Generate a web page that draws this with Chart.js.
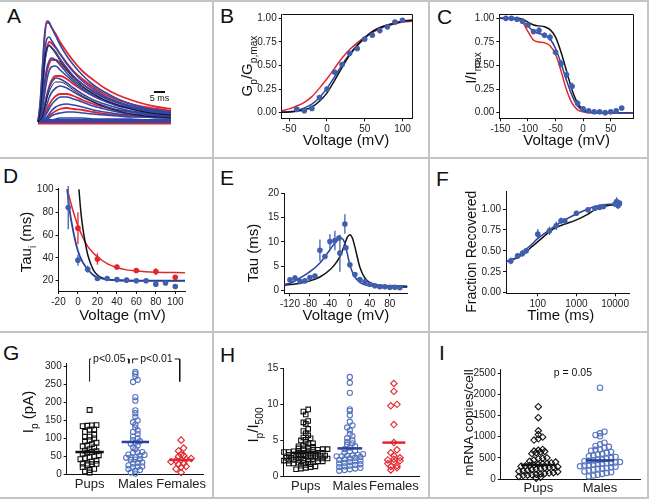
<!DOCTYPE html>
<html>
<head>
<meta charset="utf-8">
<title>Channel kinetics and expression</title>
<script src="https://cdn.jsdelivr.net/npm/chart.js@4.4.1/dist/chart.umd.min.js"></script>
<style>
  html, body { margin: 0; padding: 0; background: #fff; }
  #fig { position: relative; width: 651px; height: 501px; overflow: hidden; font-family: "Liberation Sans", Arial, sans-serif; }
  #fig canvas { position: absolute; left: 0; top: 0; }
  .rule { position: absolute; background: #c4c4c4; }
  .tag { position: absolute; font-size: 21px; line-height: 21px; color: #111; }
</style>
</head>
<body>
<div id="fig">
  <div class="rule" style="left:0;top:0;width:649px;height:2px"></div>
  <div class="rule" style="left:647px;top:0;width:2px;height:499px"></div>
  <div class="rule" style="left:0;top:497px;width:649px;height:2px"></div>
  <div class="rule" style="left:212px;top:0;width:2px;height:498px"></div>
  <div class="rule" style="left:428px;top:0;width:2px;height:498px"></div>
  <div class="rule" style="left:0;top:157px;width:648px;height:2px"></div>
  <div class="rule" style="left:0;top:331px;width:648px;height:2px"></div>
  <div class="tag" style="left:7px;top:5px">A</div>
  <div class="tag" style="left:220px;top:5px">B</div>
  <div class="tag" style="left:437px;top:6px">C</div>
  <div class="tag" style="left:3px;top:165px">D</div>
  <div class="tag" style="left:220px;top:167px">E</div>
  <div class="tag" style="left:436px;top:168px">F</div>
  <div class="tag" style="left:3px;top:342px">G</div>
  <div class="tag" style="left:220px;top:344px">H</div>
  <div class="tag" style="left:439px;top:342px">I</div>
</div>
<script>
// ---- A: current traces (amplitude above baseline, ms)
const A_TIME = [0, 1, 2, 3, 4, 5, 6, 8, 10, 13, 16, 20, 25, 30, 36, 42, 48, 54, 60];
const A_BLUE = [
  [0, 20, 55, 88, 101, 100, 95, 86, 77, 66, 57, 47, 37, 30, 23, 18, 14, 12, 10],
  [0, 12, 40, 70, 83, 85, 82, 75, 68, 58, 50, 41, 33, 26, 20, 16, 13, 11, 9],
  [0, 8, 30, 58, 72, 77, 75, 70, 63, 54, 46, 38, 30, 24, 19, 15, 12, 10, 8],
  [0, 5, 20, 40, 54, 61, 64, 62, 57, 49, 42, 35, 28, 22, 17, 14, 11, 9, 8],
  [0, 3, 13, 28, 42, 51, 55, 56, 52, 46, 40, 33, 26, 21, 16, 13, 10, 8, 7],
  [0, 2, 7, 16, 26, 34, 39, 44, 43, 39, 34, 28, 22, 18, 14, 11, 9, 8, 7],
  [0, 1, 4, 10, 17, 24, 29, 34, 36, 34, 30, 25, 20, 16, 12, 10, 8, 7, 6],
  [0, 1, 2, 5, 9, 13, 17, 22, 25, 25, 23, 20, 16, 13, 10, 8, 7, 6, 5],
  [0, 0, 1, 3, 5, 8, 11, 15, 17, 18, 17, 15, 12, 10, 8, 7, 6, 5, 5],
  [0, 0, 1, 2, 3, 4, 6, 8, 9, 10, 10, 9, 8, 7, 6, 5, 5, 4, 4],
  [0, 0, 0, 1, 1, 2, 2, 3, 4, 4, 4, 4, 3, 3, 3, 3, 2, 2, 2],
  [1, 1, 1, 1, 1, 1, 1, 1, 1, 1, 1, 1, 1, 1, 1, 1, 1, 1, 1]
];
const A_RED = [
  [0, 18, 52, 85, 99, 99, 95, 88, 80, 70, 61, 51, 42, 34, 27, 22, 18, 15, 13],
  [0, 10, 33, 60, 74, 80, 79, 74, 68, 59, 51, 43, 35, 28, 22, 18, 15, 13, 11],
  [0, 5, 18, 36, 50, 58, 62, 62, 59, 52, 45, 38, 31, 25, 20, 16, 13, 11, 10],
  [0, 2, 8, 17, 27, 35, 41, 46, 46, 43, 38, 32, 26, 21, 17, 14, 11, 10, 9],
  [0, 1, 3, 7, 12, 17, 21, 26, 28, 28, 26, 22, 18, 15, 12, 10, 8, 7, 7],
  [0, 0, 1, 2, 4, 6, 8, 11, 13, 14, 13, 12, 10, 8, 7, 6, 5, 5, 4],
  [-1, -1, -1, -1, -1, -1, -1, -1, -1, -1, -1, -1, -1, -1, -1, -1, -1, -1, -1]
];
const A_FITS = [
  [0, 10, 35, 62, 74, 76, 74, 68, 61, 52, 44, 36, 28, 22, 17, 13, 10, 8, 7],
  [0, 2, 6, 14, 23, 30, 35, 40, 40, 37, 32, 26, 20, 15, 11, 8, 6, 5, 4]
];
const A_BAR = [52.3, 57.3, 30];   // scale bar: start, end (ms), level

// ---- B: activation
const B_V = [-40, -30, -20, -10, 0, 10, 20, 30, 40, 50, 60, 70, 80, 90, 100];
const B_G = [0.035, 0.02, 0.045, 0.16, 0.25, 0.43, 0.51, 0.63, 0.68, 0.78, 0.82, 0.87, 0.91, 0.96, 0.98];
const B_FIT_V = [-60, -50, -40, -30, -20, -10, 0, 10, 20, 30, 40, 50, 60, 70, 80, 90, 100, 113];
const B_FIT_BLUE = [0.005, 0.01, 0.02, 0.05, 0.09, 0.16, 0.26, 0.38, 0.51, 0.62, 0.72, 0.8, 0.86, 0.9, 0.93, 0.95, 0.97, 0.98];
const B_FIT_BLACK = [0.003, 0.006, 0.015, 0.03, 0.06, 0.12, 0.21, 0.34, 0.48, 0.61, 0.71, 0.79, 0.86, 0.9, 0.93, 0.95, 0.97, 0.98];
const B_FIT_RED = [0.02, 0.04, 0.07, 0.11, 0.17, 0.26, 0.36, 0.47, 0.58, 0.67, 0.74, 0.8, 0.85, 0.89, 0.92, 0.94, 0.96, 0.97];
const B_X_TICKS = [-50, 0, 50, 100];
const FRAC_TICKS = [0, 0.25, 0.5, 0.75, 1];

// ---- C: steady-state inactivation
const C_V = [-140, -130, -120, -110, -100, -90, -80, -70, -60, -50, -40, -30, -20, -10, 0, 10, 20, 30, 40, 50, 60, 70];
const C_I = [1.0, 1.0, 0.99, 0.97, 0.93, 0.86, 0.87, 0.82, 0.8, 0.64, 0.52, 0.4, 0.28, 0.1, 0.04, 0.02, 0.01, 0.01, 0.0, 0.01, 0.02, 0.05];
const C_ERR = [0.01, 0.01, 0.01, 0.01, 0.02, 0.03, 0.04, 0.03, 0.04, 0.03, 0.04, 0.04, 0.04, 0.03, 0.02, 0.01, 0.01, 0.01, 0.01, 0.01, 0.01, 0.02];
const C_FIT_V = [-152, -120, -110, -100, -90, -80, -70, -60, -50, -40, -30, -20, -10, 0, 10, 20, 91];
const C_FIT_BLACK = [1, 1, 0.99, 0.96, 0.93, 0.92, 0.91, 0.88, 0.8, 0.64, 0.44, 0.24, 0.1, 0.03, 0.01, 0, 0];
const C_FIT_RED = [1, 0.99, 0.96, 0.86, 0.77, 0.75, 0.74, 0.71, 0.62, 0.44, 0.24, 0.1, 0.03, 0.01, 0, 0, 0];
const C_FIT_BLUE = [1, 0.99, 0.97, 0.92, 0.86, 0.84, 0.82, 0.78, 0.68, 0.52, 0.34, 0.18, 0.07, 0.02, 0.005, 0, 0];
const C_X_TICKS = [-150, -100, -50, 0, 50];

// ---- D: inactivation time constant
const D_V_BLUE = [-10, 0, 10, 20, 30, 40, 50, 60, 70, 80, 90, 100];
const D_TAU_BLUE = [84, 38, 30, 22, 22, 21, 20.5, 20, 20, 17, 18, 15];
const D_ERR_BLUE = [19, 5, 3, 1, 1, 1, 1, 1, 1, 1.5, 1, 0.5];
const D_V_RED = [0, 20, 40, 60, 80, 100];
const D_TAU_RED = [66, 39, 32, 29, 28, 23];
const D_ERR_RED = [14, 5, 2, 1.5, 3, 1.5];
const D_FIT_V_BLUE = [-11, -9, -5, 0, 5, 10, 15, 20, 30, 40, 60, 110];
const D_FIT_BLUE = [100, 84, 64, 46, 36, 30, 25.5, 23, 21, 20.4, 20, 20];
const D_FIT_V_RED = [-11, -5, 0, 5, 10, 15, 20, 30, 40, 50, 60, 80, 110];
const D_FIT_RED = [100, 81, 68, 58, 50, 45, 41, 35, 31.5, 29.5, 28.5, 27.5, 27];
const D_FIT_V_BLACK = [1, 3, 5, 8, 10, 13, 16, 20, 25, 30, 40, 60, 110];
const D_FIT_BLACK = [100, 80, 66, 51, 43, 35, 29, 25, 22.5, 21.3, 20.4, 20, 20];
const D_X_TICKS = [-20, 0, 20, 40, 60, 80, 100];
const D_Y_TICKS = [20, 40, 60, 80, 100];

// ---- E: activation / deactivation time constant
const E_V = [-120, -110, -100, -90, -80, -70, -60, -50, -40, -30, -22, -20, -10, -8, 0, 10, 20, 30, 40, 50, 60, 70, 80, 90, 100];
const E_TAU = [2.2, 2.6, 1.9, 2.0, 2.7, 3.0, 8.3, 7.0, 10.1, 10.3, 10.8, 7.7, 13.7, 8.8, 5.3, 3.3, 2.3, 1.8, 1.3, 1.0, 0.8, 0.8, 0.7, 0.7, 0.6];
const E_ERR = [0.3, 0.6, 0.2, 0.2, 0.5, 0.4, 2.2, 0.5, 1.5, 2.0, 0, 3.8, 2.0, 0.5, 0.4, 0.3, 0.2, 0.2, 0.1, 0.1, 0.1, 0.1, 0.1, 0.1, 0.1];
const E_FIT_V = [-132, -120, -100, -80, -60, -40, -30, -20, -15, -10, -5, 0, 5, 10, 20, 30, 40, 60, 80, 115];
const E_FIT_BLUE = [1.3, 1.5, 2.6, 3.9, 5.7, 8.4, 9.8, 10.8, 10.7, 9.7, 7.5, 5.3, 3.8, 2.8, 1.7, 1.2, 1.0, 0.8, 0.75, 0.7];
const E_FIT_BLACK = [1.1, 1.25, 1.5, 2.0, 2.8, 4.3, 5.4, 7.0, 8.2, 9.7, 11.0, 11.5, 10.8, 9.0, 4.8, 2.6, 1.6, 1.1, 1.0, 0.9];
const E_X_TICKS = [-120, -80, -40, 0, 40, 80];
const E_Y_TICKS = [0, 5, 10, 15, 20];

// ---- F: recovery from inactivation
const F_T = [20, 30, 40, 50, 100, 200, 300, 400, 500, 1000, 2000, 3000, 4000, 5000, 10000, 11000, 12000, 13000];
const F_FRAC = [0.38, 0.44, 0.47, 0.5, 0.7, 0.74, 0.8, 0.86, 0.86, 0.95, 0.99, 1.01, 1.02, 1.03, 1.06, 1.09, 1.04, 1.07];
const F_ERR = [0.04, 0.03, 0.04, 0.03, 0.06, 0.05, 0.05, 0.04, 0.03, 0.03, 0.02, 0.02, 0.02, 0.02, 0.03, 0.05, 0.04, 0.03];
const F_FIT_T = [15, 20, 30, 50, 70, 100, 150, 200, 300, 500, 1000, 2000, 3000, 5000, 10000, 15000];
const F_FIT_BLUE = [0.37, 0.39, 0.43, 0.52, 0.58, 0.65, 0.71, 0.75, 0.81, 0.87, 0.94, 1.0, 1.03, 1.05, 1.06, 1.06];
const F_FIT_BLACK = [0.37, 0.39, 0.42, 0.49, 0.55, 0.61, 0.68, 0.73, 0.78, 0.82, 0.87, 0.94, 0.99, 1.03, 1.05, 1.05];
const F_X_TICKS = [100, 1000, 10000];

// ---- G: peak current by group
const GROUPS = ['Pups', 'Males', 'Females'];
const G_PUPS = [179, 137, 136, 135, 134, 125, 124, 118, 110, 105, 104, 100, 95, 92, 88, 84, 80, 78, 75, 70, 66, 64, 62, 60, 57, 53, 50, 48, 45, 42, 38, 35, 30, 30, 29, 28, 25, 20, 15, 12, 8, 5];
const G_MALES = [285, 280, 272, 263, 257, 215, 205, 178, 170, 160, 150, 145, 138, 130, 122, 118, 112, 105, 100, 95, 92, 88, 85, 80, 75, 70, 62, 61, 60, 55, 54, 52, 48, 47, 46, 42, 41, 40, 33, 32, 30, 25, 22, 21, 20, 15, 12, 10, 5, 2];
const G_FEMALES = [95, 73, 65, 55, 52, 50, 44, 42, 40, 38, 35, 30, 28, 22, 20, 15, 5];
const G_MEDIANS = [62, 90, 40];
const G_Y_TICKS = [0, 50, 100, 150, 200, 250, 300];
const G_SIG_X = [[1, 1.86], [1.94, 2.97]];
const G_SIG_LEGS = [[258, 309], [309, 258]];
const G_SIG_TOP = 321;
const G_SIG_TEXT = ['p<0.05', 'p<0.01'];
const G_SIG_TEXT_X = [1.43, 2.46];

// ---- H: Ip / I500 ratio
const H_PUPS = [9.3, 9.0, 8.6, 7.7, 7.5, 7.3, 6.6, 6.3, 6.0, 5.7, 5.4, 5.3, 5.1, 5.0, 4.8, 4.6, 4.5, 4.3, 4.2, 4.1, 4.0, 3.9, 3.9, 3.8, 3.8, 3.7, 3.7, 3.6, 3.6, 3.5, 3.5, 3.4, 3.4, 3.3, 3.3, 3.2, 3.2, 3.1, 3.1, 3.0, 3.0, 2.9, 2.9, 2.8, 2.8, 2.8, 2.7, 2.7, 2.6, 2.6, 2.5, 2.5, 2.5, 2.4, 2.4, 2.3, 2.3, 2.3, 2.2, 2.2, 2.1, 2.1, 2.0, 2.0, 1.9, 1.9, 1.8, 1.8, 1.7, 1.6, 1.5, 1.4, 1.3, 1.2, 1.1, 1.0];
const H_MALES = [13.8, 13.0, 11.6, 9.3, 9.1, 8.5, 7.6, 7.1, 6.8, 6.4, 5.9, 5.6, 5.3, 5.0, 4.8, 4.6, 4.4, 4.2, 4.0, 3.8, 3.6, 3.5, 3.3, 3.1, 3.0, 2.9, 2.9, 2.8, 2.8, 2.7, 2.6, 2.5, 2.4, 2.3, 2.2, 2.1, 2.0, 1.9, 1.8, 1.7, 1.6, 1.5, 1.4, 1.3, 1.2, 1.1, 1.0, 0.9, 0.8];
const H_FEMALES = [12.9, 11.8, 10.0, 9.8, 7.2, 4.7, 3.7, 3.3, 2.9, 2.6, 2.4, 2.3, 2.2, 2.0, 1.8, 1.5, 1.4, 1.2, 0.9];
const H_MEDIANS = [3.3, 3.9, 4.7];
const H_Y_TICKS = [0, 5, 10, 15];

// ---- I: mRNA copies per cell
const I_PUPS = [1710, 1450, 1140, 1050, 990, 950, 920, 700, 680, 660, 650, 640, 620, 600, 500, 490, 480, 450, 420, 400, 380, 370, 360, 350, 330, 320, 310, 300, 290, 280, 270, 260, 240, 230, 220, 200, 190, 180, 170, 150, 140, 130, 120, 110, 100, 90, 80, 60, 40, 20];
const I_MALES = [2160, 1120, 1080, 1040, 1010, 860, 820, 780, 760, 740, 700, 690, 670, 640, 620, 600, 580, 560, 540, 520, 500, 480, 460, 450, 440, 430, 420, 400, 390, 380, 370, 360, 350, 340, 330, 320, 300, 290, 280, 260, 250, 240, 220, 200, 180, 160, 140, 120, 100, 80, 60];
const I_MEDIANS = [330, 440];
const I_Y_TICKS = [0, 500, 1000, 1500, 2000, 2500];

const W = 651, H = 501;
const FONT = '"Liberation Sans", Arial, Helvetica, sans-serif';
const BLUE = '#3f5fae', BLUE_FIT = '#2a419c', BLUE_OPEN = '#5674bf', RED = '#e2262d', BLACK = '#111';
Chart.defaults.font.family = FONT;
Chart.defaults.color = '#222';
const fig = document.getElementById('fig');

// text with subscripts, centred on (x, y); rotated for y titles
function rich(c, parts, x, y, size, rot) {
  c.save();
  c.translate(x, y);
  if (rot) c.rotate(-Math.PI / 2);
  c.fillStyle = BLACK;
  c.textAlign = 'left';
  c.textBaseline = 'alphabetic';
  const fonts = parts.map(p => (p[1] ? size * 0.68 : size) + 'px ' + FONT);
  let total = 0;
  parts.forEach((p, i) => { c.font = fonts[i]; total += c.measureText(p[0]).width; });
  let cx = -total / 2;
  parts.forEach((p, i) => {
    c.font = fonts[i];
    c.fillText(p[0], cx, size * 0.36 + (p[1] ? size * 0.3 : 0));
    cx += c.measureText(p[0]).width;
  });
  c.restore();
}

const notesPlugin = {
  id: 'notes',
  afterDatasetsDraw(chart) {
    const c = chart.ctx, ys = chart.scales.y;
    chart.data.datasets.forEach((ds, i) => {
      if (!ds.errs) return;
      const meta = chart.getDatasetMeta(i);
      c.save();
      c.strokeStyle = ds.borderColor;
      c.lineWidth = 1.3;
      meta.data.forEach((pt, j) => {
        const v = ds.data[j].y, e = ds.errs[j];
        if (!e) return;
        c.beginPath();
        c.moveTo(pt.x, ys.getPixelForValue(v - e));
        c.lineTo(pt.x, ys.getPixelForValue(v + e));
        c.stroke();
      });
      c.restore();
    });
  },
  afterDraw(chart, args, o) {
    const c = chart.ctx, a = chart.chartArea, xs = chart.scales.x, ys = chart.scales.y;
    c.save();
    if (o.frame) {
      const l = Math.round(a.left) + 0.5, t = Math.round(a.top) + 0.5, r = Math.round(a.right) + 0.5, b = Math.round(a.bottom) + 0.5;
      c.strokeStyle = BLACK; c.lineWidth = 1;
      c.beginPath(); c.moveTo(l, t); c.lineTo(r, t); c.lineTo(r, b); c.stroke();
    }
    if (o.bar) {
      const x0 = xs.getPixelForValue(o.bar[0]), x1 = xs.getPixelForValue(o.bar[1]), y = ys.getPixelForValue(o.bar[2]);
      c.strokeStyle = BLACK; c.lineWidth = 2;
      c.beginPath(); c.moveTo(x0, y); c.lineTo(x1, y); c.stroke();
      c.fillStyle = BLACK; c.font = '9px ' + FONT; c.textAlign = 'center'; c.textBaseline = 'top';
      c.fillText('5 ms', (x0 + x1) / 2, y + 2);
    }
    (o.labels || []).forEach(m => {
      const x = xs.getPixelForValue(m.xv), y = ys.getPixelForValue(m.yv);
      c.font = m.s + 'px ' + FONT;
      const w = c.measureText(m.t).width;
      if (m.bg) { c.fillStyle = '#fff'; c.fillRect(x - w / 2 - 2, y - m.s / 2, w + 4, m.s); }
      c.fillStyle = BLACK; c.textAlign = 'center'; c.textBaseline = 'middle';
      c.fillText(m.t, x, y);
    });
    (o.texts || []).forEach(t => rich(c, t.p, t.x, t.y, t.s, t.r));
    c.restore();
  }
};

function axis(o) {
  return {
    type: o.type || 'linear',
    display: o.display !== false,
    min: o.min, max: o.max,
    afterBuildTicks: s => { if (o.ticks) s.ticks = o.ticks.map(v => ({ value: v })); },
    afterFit: s => { if (o.w != null) s.width = o.w; if (o.h != null) s.height = o.h; },
    ticks: {
      font: { size: o.size || 10 }, color: '#222', padding: o.pad != null ? o.pad : 2,
      maxRotation: 0, autoSkip: false, callback: o.fmt || (v => String(v))
    },
    grid: { drawOnChartArea: false, drawTicks: !o.noTick, tickLength: 3, tickColor: BLACK, tickWidth: 1 },
    border: { display: true, color: BLACK, width: 1 }
  };
}

function mount(box, xo, yo, datasets, notes) {
  const cv = document.createElement('canvas');
  cv.width = W; cv.height = H;
  fig.appendChild(cv);
  return new Chart(cv, {
    type: 'scatter',
    data: { datasets: datasets.map(d => Object.assign({ clip: false }, d)) },
    options: {
      responsive: false, animation: false, events: [],
      layout: { padding: { left: box.l - (box.yw || 0), top: box.t, right: W - box.r, bottom: H - box.b - (box.xh || 0) } },
      plugins: { legend: { display: false }, tooltip: { enabled: false }, notes: notes || {} },
      scales: { x: axis(Object.assign({ h: box.xh }, xo)), y: axis(Object.assign({ w: box.yw }, yo)) }
    },
    plugins: [notesPlugin]
  });
}

const pairs = (xs, ys) => xs.map((x, i) => ({ x, y: ys[i] }));
const curve = (xs, ys, color, w, tension) => ({
  data: pairs(xs, ys), showLine: true, borderColor: color, borderWidth: w || 1.5,
  pointRadius: 0, tension: tension == null ? 0.4 : tension, cubicInterpolationMode: 'monotone'
});
const dots = (xs, ys, errs, color, r) => ({
  data: pairs(xs, ys), errs, borderColor: color, pointBackgroundColor: color,
  pointBorderColor: color, pointRadius: r || 2.8, pointBorderWidth: 0
});
const fmt2 = v => v.toFixed(2);
const cat = v => GROUPS[v - 1];

// column scatter: values in the same band are spread side by side
function swarm(vals, center, bin, slot) {
  const rows = new Map();
  [...vals].sort((a, b) => a - b).forEach(v => {
    const k = Math.round(v / bin);
    if (!rows.has(k)) rows.set(k, []);
    rows.get(k).push(v);
  });
  const pts = [];
  rows.forEach(r => r.forEach((v, i) => pts.push({ x: center + (i - (r.length - 1) / 2) * slot, y: v })));
  return pts;
}
const openPts = (pts, style, color, r) => ({
  data: pts, pointStyle: style, pointRadius: r, pointBorderColor: color,
  pointBackgroundColor: 'rgba(255,255,255,0)', pointBorderWidth: 1.1
});
const median = (c, m, half, color) => ({
  data: [{ x: c - half, y: m }, { x: c + half, y: m }], showLine: true,
  borderColor: color, borderWidth: 2.5, pointRadius: 0
});

// ---- A
mount({ l: 38, r: 171, t: 20, b: 122 }, { display: false, min: 0, max: 60 }, { display: false, min: 0, max: 102 },
  [
    ...A_FITS.map(tr => curve(A_TIME, tr, BLACK, 0.9, 0.3)),
    ...A_BLUE.map((tr, i) => curve(A_TIME, tr, '#3446a6', i === A_BLUE.length - 1 ? 4 : 1.6, 0.3)),
    ...A_RED.map((tr, i) => curve(A_TIME, tr, RED, i === A_RED.length - 1 ? 3 : 1.8, 0.3))
  ],
  { bar: A_BAR });

// ---- B
mount({ l: 281.7, r: 412.3, t: 14, b: 118.3, yw: 30, xh: 18 },
  { min: -60, max: 113, ticks: B_X_TICKS },
  { min: -0.06, max: 1.046, ticks: FRAC_TICKS, fmt: fmt2 },
  [
    dots(B_V, B_G, null, BLUE),
    curve(B_FIT_V, B_FIT_BLACK, BLACK),
    curve(B_FIT_V, B_FIT_BLUE, BLUE_FIT),
    curve(B_FIT_V, B_FIT_RED, RED)
  ],
  {
    frame: true,
    texts: [
      { p: [['Voltage (mV)']], x: 346, y: 140, s: 15 },
      { p: [['G'], ['p', 1], ['/G'], ['p,max', 1]], x: 247, y: 66, s: 15, r: true }
    ]
  });

// ---- C
mount({ l: 499.3, r: 633.3, t: 14, b: 118.3, yw: 30, xh: 18 },
  { min: -152, max: 91, ticks: C_X_TICKS },
  { min: -0.06, max: 1.046, ticks: FRAC_TICKS, fmt: fmt2 },
  [
    dots(C_V, C_I, C_ERR, BLUE),
    curve(C_FIT_V, C_FIT_BLUE, BLUE_FIT),
    curve(C_FIT_V, C_FIT_BLACK, BLACK),
    curve(C_FIT_V, C_FIT_RED, RED)
  ],
  {
    frame: true,
    texts: [
      { p: [['Voltage (mV)']], x: 566.7, y: 140, s: 15 },
      { p: [['I/I'], ['max', 1]], x: 471, y: 68, s: 15, r: true }
    ]
  });

// ---- D
mount({ l: 58.5, r: 185, t: 188.3, b: 291, yw: 28, xh: 18 },
  { min: -20, max: 110, ticks: D_X_TICKS },
  { min: 11, max: 100.9, ticks: D_Y_TICKS },
  [
    dots(D_V_BLUE, D_TAU_BLUE, D_ERR_BLUE, BLUE),
    dots(D_V_RED, D_TAU_RED, D_ERR_RED, RED),
    curve(D_FIT_V_BLUE, D_FIT_BLUE, BLUE_FIT, 1.8),
    curve(D_FIT_V_BLACK, D_FIT_BLACK, BLACK),
    curve(D_FIT_V_RED, D_FIT_RED, RED)
  ],
  {
    texts: [
      { p: [['Voltage (mV)']], x: 122.5, y: 315, s: 15 },
      { p: [['Tau'], ['i', 1], [' (ms)']], x: 26, y: 242, s: 15, r: true }
    ]
  });

// ---- E
mount({ l: 284, r: 407.3, t: 193.3, b: 293.3, yw: 28, xh: 18 },
  { min: -132, max: 115, ticks: E_X_TICKS },
  { min: -0.55, max: 20, ticks: E_Y_TICKS },
  [
    dots(E_V, E_TAU, E_ERR, BLUE),
    curve(E_FIT_V, E_FIT_BLUE, BLUE_FIT),
    curve(E_FIT_V, E_FIT_BLACK, BLACK)
  ],
  {
    texts: [
      { p: [['Voltage (mV)']], x: 345.8, y: 315, s: 15 },
      { p: [['Tau (ms)']], x: 253, y: 253, s: 15, r: true }
    ]
  });

// ---- F
mount({ l: 506, r: 629.3, t: 191.7, b: 293.3, yw: 36, xh: 18 },
  { type: 'logarithmic', min: 15, max: 23400, ticks: F_X_TICKS },
  { min: -0.007, max: 1.207, ticks: FRAC_TICKS, fmt: fmt2 },
  [
    dots(F_T, F_FRAC, F_ERR, BLUE),
    curve(F_FIT_T, F_FIT_BLUE, BLUE_FIT),
    curve(F_FIT_T, F_FIT_BLACK, BLACK)
  ],
  {
    texts: [
      { p: [['Time (ms)']], x: 560.8, y: 315, s: 15 },
      { p: [['Fraction Recovered']], x: 471, y: 251.7, s: 14, r: true }
    ]
  });

// ---- G
mount({ l: 66.7, r: 204, t: 363.3, b: 474.3, yw: 30, xh: 22 },
  { min: 0.5, max: 3.5, ticks: [1, 2, 3], fmt: cat, size: 13, noTick: true, pad: 2 },
  { min: 0, max: 309, ticks: G_Y_TICKS },
  [
    median(1, G_MEDIANS[0], 0.31, BLACK),
    median(2, G_MEDIANS[1], 0.3, BLUE_FIT),
    median(3, G_MEDIANS[2], 0.26, RED),
    openPts(swarm(G_PUPS, 1, 12, 0.1), 'rect', BLACK, 3.4),
    openPts(swarm(G_MALES, 2, 10, 0.1), 'circle', BLUE_OPEN, 2.6),
    openPts(swarm(G_FEMALES, 3, 10, 0.11), 'rectRot', RED, 3.3),
    ...G_SIG_X.map((xx, i) => ({
      data: [{ x: xx[0], y: G_SIG_LEGS[i][0] }, { x: xx[0], y: G_SIG_TOP }, { x: xx[1], y: G_SIG_TOP }, { x: xx[1], y: G_SIG_LEGS[i][1] }],
      showLine: true, borderColor: BLACK, borderWidth: 1, pointRadius: 0, tension: 0
    }))
  ],
  {
    labels: G_SIG_TEXT.map((t, i) => ({ t, xv: G_SIG_TEXT_X[i], yv: G_SIG_TOP, s: 10.5, bg: true })),
    texts: [{ p: [['I'], ['p', 1], [' (pA)']], x: 28, y: 412, s: 15, r: true }]
  });

// ---- H
mount({ l: 283.3, r: 419, t: 368.3, b: 476.5, yw: 30, xh: 22 },
  { min: 0.49, max: 3.57, ticks: [1, 2, 3], fmt: cat, size: 13, noTick: true, pad: 2 },
  { min: 0, max: 15, ticks: H_Y_TICKS },
  [
    median(1, H_MEDIANS[0], 0.3, BLACK),
    median(2, H_MEDIANS[1], 0.28, BLUE_FIT),
    median(3, H_MEDIANS[2], 0.26, RED),
    openPts(swarm(H_PUPS, 1, 0.4, 0.11), 'rect', BLACK, 3.2),
    openPts(swarm(H_MALES, 2, 0.5, 0.12), 'circle', BLUE_OPEN, 2.6),
    openPts(swarm(H_FEMALES, 3, 0.5, 0.14), 'rectRot', RED, 3.2)
  ],
  {
    texts: [{ p: [['I'], ['p', 1], ['/I'], ['500', 1]], x: 253, y: 425, s: 15, r: true }]
  });

// ---- I
mount({ l: 500.7, r: 640.7, t: 369.3, b: 479, yw: 30, xh: 22 },
  { min: 0.39, max: 2.66, ticks: [1, 2], fmt: cat, size: 13, noTick: true, pad: 2 },
  { min: 0, max: 2594, ticks: I_Y_TICKS },
  [
    median(1, I_MEDIANS[0], 0.28, BLACK),
    median(2, I_MEDIANS[1], 0.23, BLUE_FIT),
    openPts(swarm(I_PUPS, 1, 120, 0.07), 'rectRot', BLACK, 3.2),
    openPts(swarm(I_MALES, 2, 120, 0.072), 'circle', BLUE_OPEN, 2.7)
  ],
  {
    labels: [{ t: 'p = 0.05', xv: 1.56, yv: 2500, s: 10.5 }],
    texts: [{ p: [['mRNA copies/cell']], x: 468, y: 422.5, s: 13.5, r: true }]
  });
</script>
</body>
</html>
